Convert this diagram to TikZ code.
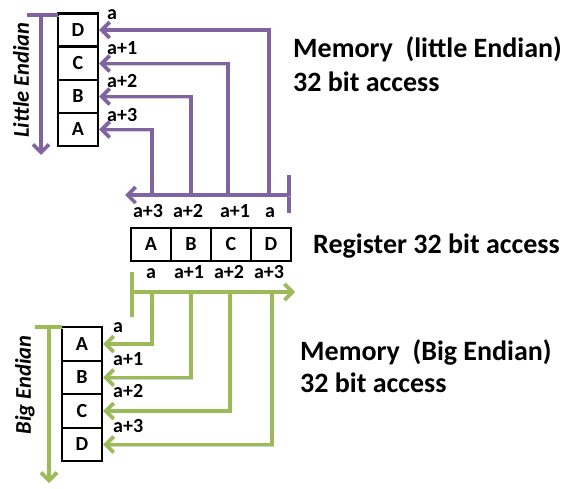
\documentclass[tikz,border=0pt]{standalone}
\usepackage{fontspec}
\setmainfont{Carlito}
\usetikzlibrary{arrows.meta}
\definecolor{lepurple}{RGB}{128,100,162}
\definecolor{begreen}{RGB}{155,187,89}

\begin{document}
\begin{tikzpicture}[x=1pt,y=-1pt,
  cell/.style={draw=black, line width=2.1pt, minimum width=40pt, minimum height=33pt,
    inner sep=0pt, font=\fontsize{20}{20}\selectfont\bfseries},
  bcell/.style={cell, minimum height=33.5pt},
  addr/.style={inner sep=0pt, font=\fontsize{20}{20}\selectfont\bfseries},
  title/.style={inner sep=0pt, anchor=base west, font=\fontsize{28}{28}\selectfont\bfseries},
  side/.style={inner sep=0pt, rotate=90, font=\fontsize{22.5}{22.5}\selectfont\bfseries\itshape},
  wire/.style={line width=3.7pt,
    preaction={draw=black!18, transform canvas={shift={(1.3pt,-1.3pt)}}}},
  barb/.style={-{Straight Barb[length=8pt,width=16pt]}}
]
\useasboundingbox (0,0) rectangle (565,489);

% ---------- little endian memory ----------
\node[cell] (leD) at (78,30)    {D};
\node[cell] (leC) at (78,63.5)  {C};
\node[cell] (leB) at (78,96.5)  {B};
\node[cell] (leA) at (78,129.5) {A};

\node[addr, anchor=base west] (laD) at (107,20)  {a};
\node[addr, anchor=base west] (laC) at (107,55)  {a+1};
\node[addr, anchor=base west] (laB) at (107,88)  {a+2};
\node[addr, anchor=base west] (laA) at (107,122) {a+3};

\node[side] (lelbl) at (21,80) {Little Endian};
\coordinate (leTopL) at (27,15);
\coordinate (leTopR) at (58,15);
\coordinate (leDirS) at (41,15);
\coordinate (leDirE) at (41,155);
\draw[wire, lepurple] (leTopL) -- (leTopR);
\draw[wire, lepurple, barb] (leDirS) -- (leDirE);

% ---------- little endian bus ----------
\coordinate (ptickT) at (289,175);
\coordinate (ptickB) at (289,213);
\coordinate (pbusR) at (289,195);
\coordinate (pbusL) at (125,195);
\coordinate (pA) at (152,195);
\coordinate (pB) at (191,195);
\coordinate (pC) at (228,195);
\coordinate (pD) at (269,195);
\draw[wire, lepurple] (ptickT) -- (ptickB);
\draw[wire, lepurple, barb] (pA) |- (leA.east);
\draw[wire, lepurple, barb] (pB) |- (leB.east);
\draw[wire, lepurple, barb] (pC) |- (leC.east);
\draw[wire, lepurple, barb] (pD) |- (leD.east);
\draw[wire, lepurple, barb] (pbusR) -- (pbusL);

\node[addr, anchor=base] (ua3) at (148,218) {a+3};
\node[addr, anchor=base] (ua2) at (188,218) {a+2};
\node[addr, anchor=base] (ua1) at (235,218) {a+1};
\node[addr, anchor=base] (ua0) at (270,218) {a};

% ---------- register ----------
\node[cell] (rA) at (151,244.5) {A};
\node[cell] (rB) at (191,244.5) {B};
\node[cell] (rC) at (231,244.5) {C};
\node[cell] (rD) at (271,244.5) {D};

\node[addr, anchor=base] (da0) at (151,278) {a};
\node[addr, anchor=base] (da1) at (189,278) {a+1};
\node[addr, anchor=base] (da2) at (229,278) {a+2};
\node[addr, anchor=base] (da3) at (269,278) {a+3};

% ---------- big endian bus ----------
\coordinate (gtickT) at (132,272);
\coordinate (gtickB) at (132,317);
\coordinate (gbusL) at (132,292);
\coordinate (gbusR) at (295,292);
\coordinate (gA) at (152,292);
\coordinate (gB) at (191,292);
\coordinate (gC) at (230,292);
\coordinate (gD) at (272,292);

% ---------- big endian memory ----------
\node[bcell] (beA) at (82,344)   {A};
\node[bcell] (beB) at (82,377.5) {B};
\node[bcell] (beC) at (82,411)   {C};
\node[bcell] (beD) at (82,444.5) {D};

\draw[wire, begreen] (gtickT) -- (gtickB);
\draw[wire, begreen, barb] (gbusL) -- (gbusR);
\draw[wire, begreen, barb] (gA) |- (beA.east);
\draw[wire, begreen, barb] (gB) |- (beB.east);
\draw[wire, begreen, barb] (gC) |- (beC.east);
\draw[wire, begreen, barb] (gD) |- (beD.east);

\node[addr, anchor=base west] (baA) at (113,332) {a};
\node[addr, anchor=base west] (baB) at (113,365) {a+1};
\node[addr, anchor=base west] (baC) at (113,397) {a+2};
\node[addr, anchor=base west] (baD) at (113,432) {a+3};

\node[side] (belbl) at (25,385) {Big Endian};
\coordinate (beTopL) at (35,327);
\coordinate (beTopR) at (62,327);
\coordinate (beDirS) at (49,327);
\coordinate (beDirE) at (49,483);
\draw[wire, begreen] (beTopL) -- (beTopR);
\draw[wire, begreen, barb] (beDirS) -- (beDirE);

% ---------- captions ----------
\node[title] (t1a) at (293,58)  {Memory\ \ (little Endian)};
\node[title] (t1b) at (293,92)  {32 bit access};
\node[title] (t2)  at (313,254) {Register 32 bit access};
\node[title] (t3a) at (300,360) {Memory\ \ (Big Endian)};
\node[title] (t3b) at (300,392) {32 bit access};
\end{tikzpicture}
\end{document}
